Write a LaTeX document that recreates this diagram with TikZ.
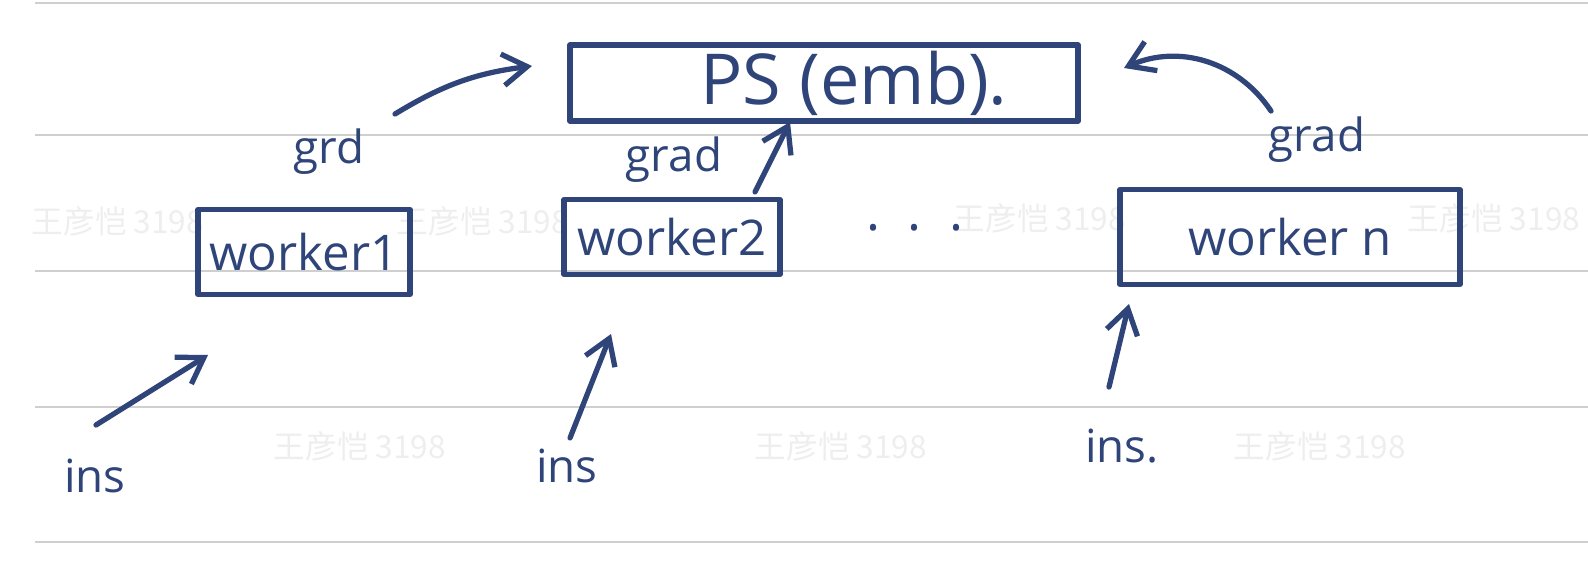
\documentclass[tikz,border=0pt]{standalone}
\usepackage{fontspec}
\setmainfont{Open Sans}
\newfontfamily\cjkwm{Noto Sans CJK SC}
\usepackage{xcolor}
\usepackage{tikz}
\usetikzlibrary{arrows.meta, positioning}

\definecolor{ink}{HTML}{2F4579}
\definecolor{ruleline}{HTML}{CFCFCF}

\begin{document}
\begin{tikzpicture}[
  x=0.02cm, y=-0.02cm,
  ink/.style={draw=ink, line width=3pt, line cap=round, line join=round},
  psbox/.style={ink, minimum width=508*0.02cm, minimum height=73*0.02cm,
                font=\fontsize{40}{44}\selectfont, text=ink},
  wbox/.style={ink, minimum height=85*0.02cm, inner sep=0pt,
               font=\fontsize{28}{32}\selectfont, text=ink},
  lbl/.style={text=ink, font=\fontsize{26}{30}\selectfont, inner sep=1pt},
  arr/.style={ink, -{Straight Barb[length=14pt,width=18pt,line width=3pt]}},
  wmark/.style={text=gray!13, font=\cjkwm\fontsize{18}{20}\selectfont}
]
\useasboundingbox (0,0) rectangle (1588,574);
% ruled paper
\foreach \yy in {3,135,271,407,542}
  \draw[ruleline, line width=1.2pt] (35,\yy) -- (1588,\yy);
\foreach \xx/\yy in {118/221,483/221,1040/218,1494/218,360/446,841/446,1320/446}
  \node[wmark] at (\xx,\yy) {王彦恺 3198};

% server and workers
\node[psbox] (ps) at (824,83) {\hspace*{1.2cm}PS (emb).};
\node[wbox, minimum width=212*0.02cm] (w1) at (304,252) {worker1};
\node[wbox, minimum width=216*0.02cm, minimum height=75*0.02cm] (w2) at (672,237) {worker2};
\node[lbl, font=\fontsize{30}{34}\selectfont] (dots) at (915,228) {.\ \ .\ \ .};
\node[wbox, minimum width=340*0.02cm, minimum height=95*0.02cm] (wn) at (1290,237) {worker n};

% inputs
\node[lbl] (ins1) at (95,476) {ins};
\node[lbl] (ins2) at (567,466) {ins};
\node[lbl] (insn) at (1122,446) {ins.};
\coordinate (w1in) at (208,355);
\coordinate (w2in) at (611,334);
\coordinate (wnin) at (1129,304);
\coordinate (ins1s) at (96,425);
\coordinate (ins2s) at (570,438);
\coordinate (insns) at (1109,387);
\draw[arr] (ins1s) -- (w1in);
\draw[arr] (ins2s) -- (w2in);
\draw[arr] (insns) -- (wnin);

% gradients
\node[lbl] (g1) at (329,152) {grd};
\node[lbl] (g2) at (674,160) {grad};
\node[lbl] (gn) at (1317,140) {grad};
\coordinate (g1s) at (395,114);
\coordinate (g1e) at (532,66);
\coordinate (g2s) at (755,192);
\coordinate (g2e) at (790,122);
\coordinate (gns) at (1271,111);
\coordinate (gne) at (1124,68);
\draw[arr] (g1s) to[bend left=12] (g1e);
\draw[arr] (g2s) -- (g2e);
\draw[arr] (gns) to[bend right=40] (gne);
\end{tikzpicture}
\end{document}
